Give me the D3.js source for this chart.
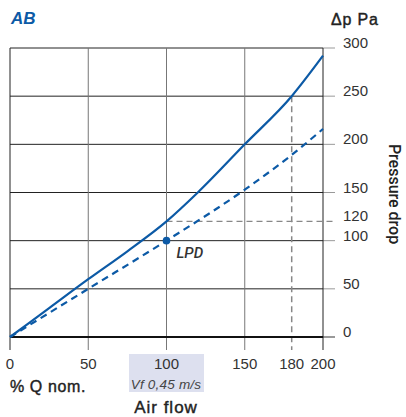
<!DOCTYPE html>
<html>
<head>
<meta charset="utf-8">
<script src="https://cdn.jsdelivr.net/npm/d3@7"></script>
<style>
  body { margin: 0; background: #fff; }
  svg text { font-family: "Liberation Sans", Arial, sans-serif; fill: #222; }
  svg text.med { font-family: Roboto, "Liberation Sans", Arial, sans-serif; font-weight: 500; }
  svg text.heavy { stroke: #222; stroke-width: 0.4px; }
</style>
</head>
<body>
<div id="chart"></div>
<script>
// air flow in % of nominal Q, pressure drop in Pa
const flowTicks = [0, 50, 100, 150, 180, 200]
const pressureTicks = [0, 50, 100, 120, 150, 200, 250, 300]
const gridX = [50, 100, 150]
const gridY = [50, 100, 150, 200, 250]

const solidFlow = [0, 25, 50, 75, 100, 120, 150, 180, 200]
const solidDp = [0, 30, 60, 89, 120, 150, 200, 250, 292]

const dashFlow = [0, 50, 100, 150, 180, 200]
const dashDp = [0, 50, 100, 153, 189, 216]

const lpd = [100, 100]

const width = 406
const height = 417
const blue = '#0c5aa6'

const svg = d3
  .select('#chart')
  .append('svg')
  .attr('width', width)
  .attr('height', height)

const x = d3.scaleLinear().domain([0, 200]).range([10, 323])
const y = d3.scaleLinear().domain([0, 300]).range([337, 48])

// horizontal grid lines, tail beyond the frame is grey
svg
  .selectAll('.hgrid')
  .data(gridY.concat([300]))
  .enter()
  .append('line')
  .attr('x1', x(0))
  .attr('x2', x(200))
  .attr('y1', (d) => y(d))
  .attr('y2', (d) => y(d))
  .attr('stroke', '#222')
  .attr('stroke-width', 1)

svg
  .selectAll('.htick')
  .data(gridY.concat([0, 300]))
  .enter()
  .append('line')
  .attr('x1', x(200))
  .attr('x2', 335)
  .attr('y1', (d) => y(d))
  .attr('y2', (d) => y(d))
  .attr('stroke', '#999')
  .attr('stroke-width', (d) => (d === 0 ? 2 : 1))

// vertical grid lines, running down as ticks
svg
  .selectAll('.vgrid')
  .data(gridX)
  .enter()
  .append('line')
  .attr('x1', (d) => x(d))
  .attr('x2', (d) => x(d))
  .attr('y1', y(300))
  .attr('y2', 350)
  .attr('stroke', '#777')
  .attr('stroke-width', 1)

// frame
svg
  .append('line')
  .attr('x1', x(0)).attr('x2', x(0))
  .attr('y1', y(300)).attr('y2', 350)
  .attr('stroke', '#222')
svg
  .append('line')
  .attr('x1', x(200)).attr('x2', x(200))
  .attr('y1', y(300)).attr('y2', 350)
  .attr('stroke', '#222')

// 120 Pa / 180 % reference lines
svg
  .append('line')
  .attr('x1', x(100)).attr('x2', 335)
  .attr('y1', y(120)).attr('y2', y(120))
  .attr('stroke', '#888')
  .attr('stroke-width', 1.3)
  .attr('stroke-dasharray', '6,4')
svg
  .append('line')
  .attr('x1', x(180)).attr('x2', x(180))
  .attr('y1', y(250)).attr('y2', 350)
  .attr('stroke', '#888')
  .attr('stroke-width', 1.5)
  .attr('stroke-dasharray', '6,4')

// bottom axis
svg
  .append('line')
  .attr('x1', x(0)).attr('x2', x(200))
  .attr('y1', y(0)).attr('y2', y(0))
  .attr('stroke', '#111')
  .attr('stroke-width', 2)

const line = d3
  .line()
  .x((d) => x(d[0]))
  .y((d) => y(d[1]))
  .curve(d3.curveMonotoneX)

svg
  .append('path')
  .attr('d', line(d3.zip(solidFlow, solidDp)))
  .attr('fill', 'none')
  .attr('stroke', blue)
  .attr('stroke-width', 2.2)

svg
  .append('path')
  .attr('d', line(d3.zip(dashFlow, dashDp)))
  .attr('fill', 'none')
  .attr('stroke', blue)
  .attr('stroke-width', 2.2)
  .attr('stroke-dasharray', '7,5')

svg
  .append('circle')
  .attr('cx', x(lpd[0]))
  .attr('cy', y(lpd[1]))
  .attr('r', 3.8)
  .attr('fill', blue)

svg
  .append('text')
  .attr('class', 'med')
  .attr('x', x(lpd[0]) + 10)
  .attr('y', y(lpd[1]) + 17)
  .attr('font-size', 15)
  .attr('font-style', 'italic')
  .style('fill', '#333')
  .text('LPD')

// shaded box behind 100 %
svg
  .append('rect')
  .attr('x', 129)
  .attr('y', 354)
  .attr('width', 75)
  .attr('height', 38)
  .attr('fill', '#dde0ef')

// x tick labels
svg
  .selectAll('.xlab')
  .data(flowTicks)
  .enter()
  .append('text')
  .attr('x', (d) => x(d))
  .attr('y', 369)
  .attr('text-anchor', 'middle')
  .attr('font-size', 15)
  .style('fill', '#333')
  .text((d) => d)

// y tick labels
svg
  .selectAll('.ylab')
  .data(pressureTicks)
  .enter()
  .append('text')
  .attr('x', 343)
  .attr('y', (d) => y(d))
  .attr('font-size', 15)
  .style('fill', '#333')
  .text((d) => d)

svg
  .append('text')
  .attr('class', 'heavy')
  .attr('x', 10)
  .attr('y', 392)
  .attr('font-size', 16)
  .attr('letter-spacing', 0.6)
  .text('% Q nom.')

svg
  .append('text')
  .attr('x', 166)
  .attr('y', 389)
  .attr('text-anchor', 'middle')
  .attr('font-size', 13.5)
  .attr('font-style', 'italic')
  .attr('letter-spacing', 0.2)
  .style('fill', '#444')
  .text('Vf 0,45 m/s')

svg
  .append('text')
  .attr('class', 'heavy')
  .attr('x', 166)
  .attr('y', 413)
  .attr('text-anchor', 'middle')
  .attr('font-size', 17)
  .attr('letter-spacing', 1)
  .text('Air flow')

svg
  .append('text')
  .attr('class', 'heavy')
  .attr('x', 331)
  .attr('y', 25)
  .attr('font-size', 16)
  .attr('letter-spacing', 0.8)
  .text('Δp Pa')

svg
  .append('text')
  .attr('class', 'med')
  .attr('transform', 'translate(389,194) rotate(90)')
  .attr('text-anchor', 'middle')
  .attr('font-size', 16)
  .style('fill', '#222')
  .text('Pressure drop')

svg
  .append('text')
  .attr('x', 11)
  .attr('y', 24)
  .attr('font-size', 17)
  .attr('font-style', 'italic')
  .attr('font-weight', 'bold')
  .style('fill', blue)
  .text('AB')
</script>
</body>
</html>
